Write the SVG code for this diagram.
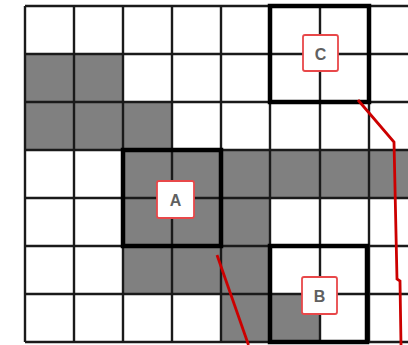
<svg xmlns="http://www.w3.org/2000/svg" width="408" height="345" viewBox="0 0 408 345">
<style>
.g{fill:#808080}
.grid{stroke:#1a1a1a;stroke-width:2.4;fill:none}
.box{stroke:#000;stroke-width:4.5;fill:none}
.lbl rect{fill:#fff;stroke:#e8484a;stroke-width:1.8}
.lbl text{font-family:"Liberation Sans",Arial,sans-serif;font-size:16px;font-weight:bold;fill:#606060;text-anchor:middle;dominant-baseline:central}
.con{stroke:#cc0000;stroke-width:2.8;fill:none}
</style>
<rect width="408" height="345" fill="#fff"/>
<g id="cells">
<rect class="g" x="25" y="54" width="98" height="48"/>
<rect class="g" x="25" y="102" width="147" height="48"/>
<rect class="g" x="123" y="150" width="285" height="48"/>
<rect class="g" x="123" y="198" width="147" height="48"/>
<rect class="g" x="123" y="246" width="147" height="48"/>
<rect class="g" x="221" y="294" width="99" height="48"/>
</g>
<g id="grid" class="grid">
<path d="M25,6H408M25,54H408M25,102H408M25,150H408M25,198H408M25,246H408M25,294H408M25,342H408"/>
<path d="M25,6V342M74,6V342M123,6V342M172,6V342M221,6V342M270,6V342M320,6V342M369,6V342"/>
</g>
<g id="C"><rect class="box" x="270" y="6" width="99" height="96"/><g class="lbl"><rect x="303" y="35" width="35" height="36" rx="2"/><text x="320.5" y="54">C</text></g></g>
<g id="A"><rect class="box" x="123" y="150" width="98" height="96"/><g class="lbl"><rect x="157" y="181" width="37" height="37" rx="2"/><text x="175.5" y="200">A</text></g></g>
<g id="B"><rect class="box" x="270" y="246" width="97" height="96"/><g class="lbl"><rect x="302" y="277" width="35" height="37" rx="2"/><text x="319.5" y="296">B</text></g></g>
<g id="connectors">
<polyline class="con" points="358,100 394,142 397,279 400,281 401,345"/>
<line class="con" x1="217" y1="255" x2="248.5" y2="345"/>
</g>
</svg>
